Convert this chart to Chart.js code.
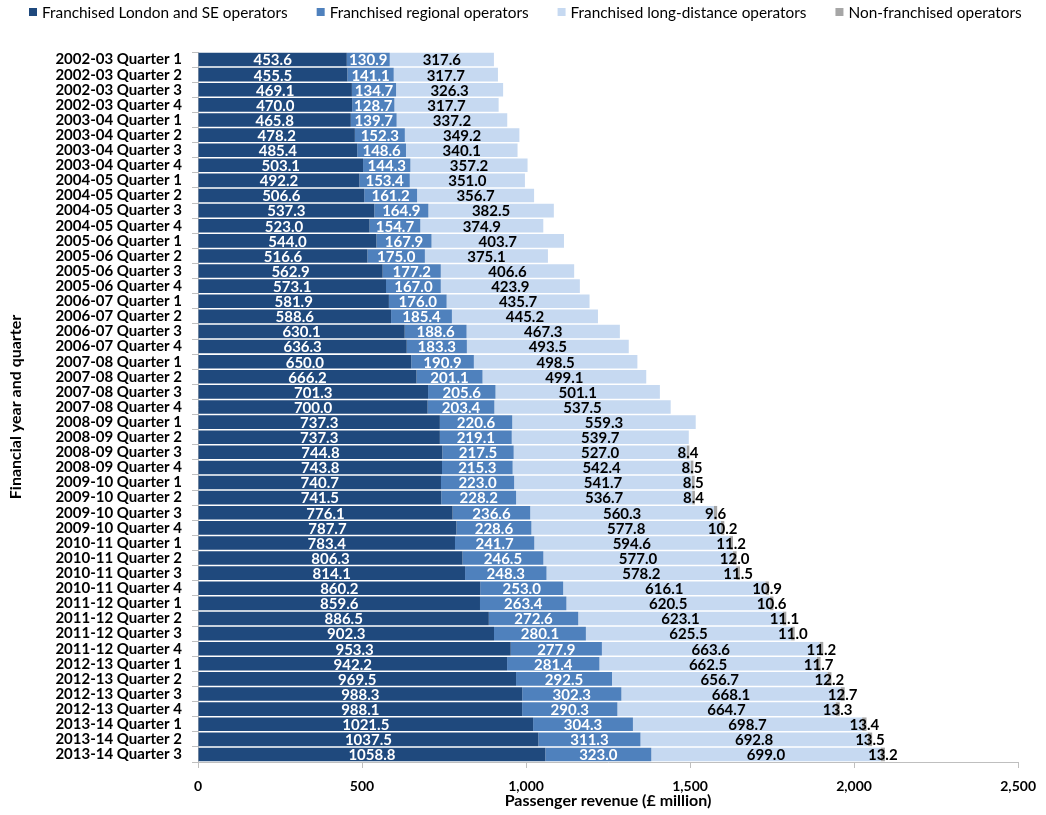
<!DOCTYPE html>
<html>
<head>
<meta charset="utf-8">
<script src="https://cdn.jsdelivr.net/npm/chart.js@4.4.1/dist/chart.umd.min.js"></script>
<style>
  html, body { margin: 0; padding: 0; background: #fff; }
  #wrap { width: 1046px; height: 815px; position: relative; }
</style>
</head>
<body>
<div id="wrap"><canvas id="c" width="1046" height="815"></canvas></div>
<script>
const categories = [
  "2002-03 Quarter 1","2002-03 Quarter 2","2002-03 Quarter 3","2002-03 Quarter 4",
  "2003-04 Quarter 1","2003-04 Quarter 2","2003-04 Quarter 3","2003-04 Quarter 4",
  "2004-05 Quarter 1","2004-05 Quarter 2","2004-05 Quarter 3","2004-05 Quarter 4",
  "2005-06 Quarter 1","2005-06 Quarter 2","2005-06 Quarter 3","2005-06 Quarter 4",
  "2006-07 Quarter 1","2006-07 Quarter 2","2006-07 Quarter 3","2006-07 Quarter 4",
  "2007-08 Quarter 1","2007-08 Quarter 2","2007-08 Quarter 3","2007-08 Quarter 4",
  "2008-09 Quarter 1","2008-09 Quarter 2","2008-09 Quarter 3","2008-09 Quarter 4",
  "2009-10 Quarter 1","2009-10 Quarter 2","2009-10 Quarter 3","2009-10 Quarter 4",
  "2010-11 Quarter 1","2010-11 Quarter 2","2010-11 Quarter 3","2010-11 Quarter 4",
  "2011-12 Quarter 1","2011-12 Quarter 2","2011-12 Quarter 3","2011-12 Quarter 4",
  "2012-13 Quarter 1","2012-13 Quarter 2","2012-13 Quarter 3","2012-13 Quarter 4",
  "2013-14 Quarter 1","2013-14 Quarter 2","2013-14 Quarter 3"
];
const londonSE = [453.6,455.5,469.1,470.0,465.8,478.2,485.4,503.1,492.2,506.6,537.3,523.0,544.0,516.6,562.9,573.1,581.9,588.6,630.1,636.3,650.0,666.2,701.3,700.0,737.3,737.3,744.8,743.8,740.7,741.5,776.1,787.7,783.4,806.3,814.1,860.2,859.6,886.5,902.3,953.3,942.2,969.5,988.3,988.1,1021.5,1037.5,1058.8];
const regional = [130.9,141.1,134.7,128.7,139.7,152.3,148.6,144.3,153.4,161.2,164.9,154.7,167.9,175.0,177.2,167.0,176.0,185.4,188.6,183.3,190.9,201.1,205.6,203.4,220.6,219.1,217.5,215.3,223.0,228.2,236.6,228.6,241.7,246.5,248.3,253.0,263.4,272.6,280.1,277.9,281.4,292.5,302.3,290.3,304.3,311.3,323.0];
const longDistance = [317.6,317.7,326.3,317.7,337.2,349.2,340.1,357.2,351.0,356.7,382.5,374.9,403.7,375.1,406.6,423.9,435.7,445.2,467.3,493.5,498.5,499.1,501.1,537.5,559.3,539.7,527.0,542.4,541.7,536.7,560.3,577.8,594.6,577.0,578.2,616.1,620.5,623.1,625.5,663.6,662.5,656.7,668.1,664.7,698.7,692.8,699.0];
const nonFranchised = [null,null,null,null,null,null,null,null,null,null,null,null,null,null,null,null,null,null,null,null,null,null,null,null,null,null,8.4,8.5,8.5,8.4,9.6,10.2,11.2,12.0,11.5,10.9,10.6,11.1,11.0,11.2,11.7,12.2,12.7,13.3,13.4,13.5,13.2];
const seriesNames = ["Franchised London and SE operators","Franchised regional operators","Franchised long-distance operators","Non-franchised operators"];
const xTicks = [0, 500, 1000, 1500, 2000, 2500];

const FONT = "Lato, 'Open Sans', sans-serif";
const colors = ["#1F497D", "#4F81BD", "#C6D9F1", "#A6A6A6"];
const labelColors = ["#ffffff", "#ffffff", "#000000", "#000000"];

const valueLabels = {
  id: 'valueLabels',
  afterDatasetsDraw(chart) {
    const ctx = chart.ctx;
    ctx.save();
    ctx.font = "bold 15px " + FONT;
    ctx.textAlign = 'center';
    ctx.textBaseline = 'middle';
    chart.data.datasets.forEach((ds, di) => {
      const meta = chart.getDatasetMeta(di);
      if (meta.hidden) return;
      meta.data.forEach((el, i) => {
        const v = ds.data[i];
        if (v === null || v === undefined) return;
        const p = el.getProps(['x', 'y', 'base'], true);
        ctx.fillStyle = labelColors[di];
        ctx.fillText(v.toFixed(1), (p.x + p.base) / 2, p.y + 1);
      });
    });
    ctx.restore();
  }
};

// Single-row legend drawn from the datasets, spanning x = 29 .. 1022
const topLegend = {
  id: 'topLegend',
  afterDraw(chart) {
    const ctx = chart.ctx;
    ctx.save();
    const box = 8, gap = 5, spacing = 29, cy = 12, x0 = 29, x1 = 1022;
    ctx.font = "15px " + FONT;
    const names = chart.data.datasets.map(ds => ds.label);
    const sum15 = names.reduce((s, t) => s + ctx.measureText(t).width, 0);
    const fixed = names.length * (box + gap) + spacing * (names.length - 1);
    const size = 15 * (x1 - x0 - fixed) / sum15;
    ctx.font = size.toFixed(2) + "px " + FONT;
    ctx.textBaseline = 'middle';
    ctx.textAlign = 'left';
    let x = x0;
    chart.data.datasets.forEach(ds => {
      ctx.fillStyle = ds.backgroundColor;
      ctx.fillRect(x, cy - box / 2, box, box);
      ctx.fillStyle = '#000';
      ctx.fillText(ds.label, x + box + gap, cy + 1);
      x += box + gap + ctx.measureText(ds.label).width + spacing;
    });
    ctx.restore();
  }
};

new Chart(document.getElementById('c'), {
  type: 'bar',
  data: {
    labels: categories,
    datasets: [
      { label: seriesNames[0], data: londonSE, backgroundColor: colors[0] },
      { label: seriesNames[1], data: regional, backgroundColor: colors[1] },
      { label: seriesNames[2], data: longDistance, backgroundColor: colors[2] },
      { label: seriesNames[3], data: nonFranchised, backgroundColor: colors[3] }
    ]
  },
  options: {
    indexAxis: 'y',
    responsive: false,
    animation: false,
    devicePixelRatio: 1,
    datasets: { bar: { categoryPercentage: 1, barPercentage: 0.9, borderWidth: 0 } },
    layout: { padding: { left: 4, right: 25, top: 52, bottom: 0 } },
    plugins: {
      legend: { display: false },
      tooltip: { enabled: false }
    },
    scales: {
      x: {
        stacked: true,
        min: 0, max: 2500,
        afterBuildTicks(scale) { scale.ticks = xTicks.map(v => ({ value: v })); },
        ticks: {
          color: '#000', font: { family: FONT, size: 14, weight: 'bold' }, padding: 10,
          callback: v => v.toLocaleString('en-US')
        },
        grid: { drawOnChartArea: false, drawTicks: true, tickLength: 6, color: '#BFBFBF' },
        border: { display: true, color: '#BFBFBF' },
        title: { display: true, text: 'Passenger revenue (£ million)', color: '#000',
                 font: { family: FONT, size: 16, weight: 'bold' }, padding: { top: 0, bottom: 5 } },
        afterFit(scale) { scale.height = 53; }
      },
      y: {
        stacked: true,
        ticks: { color: '#000', font: { family: FONT, size: 15, weight: 'bold' }, padding: 10, autoSkip: false },
        grid: { offset: true, drawOnChartArea: false, drawTicks: true, tickLength: 6, color: '#BFBFBF' },
        border: { display: true, color: '#BFBFBF' },
        title: { display: true, text: 'Financial year and quarter', color: '#000',
                 font: { family: FONT, size: 16, weight: 'bold' }, padding: { top: 2, bottom: 0 } },
        afterFit(scale) { scale.width = 194; }
      }
    }
  },
  plugins: [valueLabels, topLegend]
});
</script>
</body>
</html>
